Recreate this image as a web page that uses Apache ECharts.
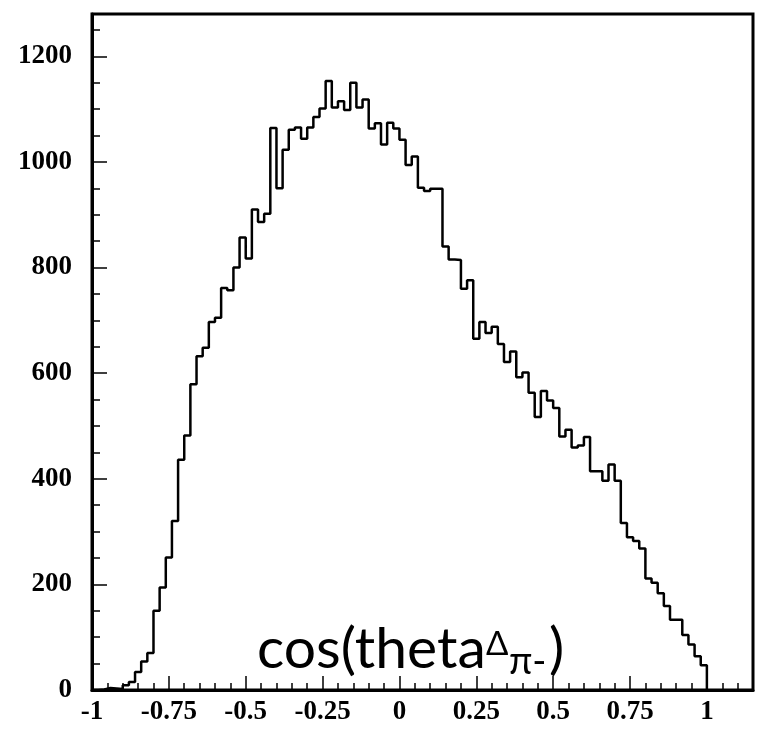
<!DOCTYPE html>
<html>
<head>
<meta charset="utf-8">
<script src="https://cdn.jsdelivr.net/npm/echarts@6/dist/echarts.min.js"></script>
<style>
html,body{margin:0;padding:0;background:#fff;}
#chart{width:762px;height:730px;}
</style>
</head>
<body>
<div id="chart"></div>
<script>
// Histogram of cos(theta) : 100 bins from -1 to 1
var binStart = -1;
var binWidth = 0.02;
var counts = [
  0, 1, 4, 3, 2, 9, 15, 34, 54, 70,
  150, 194, 251, 320, 436, 482, 579, 632, 648, 697,
  705, 761, 757, 800, 857, 817, 910, 886, 902, 1064,
  950, 1023, 1061, 1065, 1044, 1065, 1085, 1101, 1153, 1103,
  1115, 1098, 1150, 1103, 1118, 1063, 1073, 1033, 1074, 1063,
  1042, 994, 1010, 951, 945, 949, 949, 840, 815, 814,
  760, 776, 665, 697, 676, 688, 655, 621, 641, 592,
  601, 563, 517, 566, 548, 534, 480, 493, 459, 463,
  479, 414, 414, 396, 427, 396, 316, 289, 282, 268,
  211, 203, 183, 159, 133, 133, 104, 86, 64, 47
];
var xTickLabels = [-1, -0.75, -0.5, -0.25, 0, 0.25, 0.5, 0.75, 1];
var yTickLabels = [0, 200, 400, 600, 800, 1000, 1200];

var stepData = counts.map(function (c, i) { return [binStart + i * binWidth, c]; });
stepData.push([binStart + counts.length * binWidth, 0]);

function near(list, v) {
  for (var i = 0; i < list.length; i++) if (Math.abs(list[i] - v) < 1e-6) return list[i];
  return null;
}

var labelFont = { fontFamily: 'Liberation Serif', fontWeight: 'bold', fontSize: 27, color: '#000' };

var chart = echarts.init(document.getElementById('chart'), null, { renderer: 'canvas' });
chart.setOption({
  animation: false,
  backgroundColor: '#fff',
  grid: { left: 92, right: 9, top: 14, bottom: 40, show: true, borderColor: '#000', borderWidth: 3, backgroundColor: 'transparent' },
  xAxis: [
    {
      type: 'value', min: -1, max: 1.15, interval: 0.25,
      axisLine: { show: true, onZero: false, lineStyle: { color: '#000', width: 3 } },
      axisTick: { show: true, inside: true, length: 14, lineStyle: { color: '#000', width: 1.5 } },
      splitLine: { show: false },
      axisLabel: Object.assign({
        margin: 9,
        formatter: function (v) { var t = near(xTickLabels, v); return t === null ? '' : String(t); }
      }, labelFont)
    },
    {
      type: 'value', min: -1, max: 1.15, interval: 0.05, position: 'bottom',
      axisLine: { show: false, onZero: false },
      axisTick: { show: true, inside: true, length: 7, lineStyle: { color: '#000', width: 1.5 } },
      splitLine: { show: false },
      axisLabel: { show: false }
    }
  ],
  yAxis: [
    {
      type: 'value', min: 0, max: 1280, interval: 200,
      axisLine: { show: true, onZero: false, lineStyle: { color: '#000', width: 3 } },
      axisTick: { show: true, inside: true, length: 15, lineStyle: { color: '#000', width: 1.5 } },
      splitLine: { show: false },
      axisLabel: Object.assign({
        margin: 20,
        formatter: function (v) { var t = near(yTickLabels, v); return t === null ? '' : String(t); }
      }, labelFont)
    },
    {
      type: 'value', min: 0, max: 1280, interval: 50, position: 'left',
      axisLine: { show: false, onZero: false },
      axisTick: { show: true, inside: true, length: 8, lineStyle: { color: '#000', width: 1.5 } },
      splitLine: { show: false },
      axisLabel: { show: false }
    }
  ],
  series: [{
    type: 'line',
    step: 'end',
    xAxisIndex: 0,
    yAxisIndex: 0,
    data: stepData,
    symbol: 'none',
    lineStyle: { color: '#000', width: 2.5 }
  }],
  graphic: [
    { type: 'text', left: 257, top: 621, style: { text: 'cos(theta', fontFamily: 'Lato', fontSize: 57, fill: '#000' } },
    { type: 'text', left: 486, top: 628, style: { text: 'Δ', fontFamily: 'Lato', fontSize: 33, fill: '#000' } },
    { type: 'text', left: 509, top: 643, style: { text: 'π-', fontFamily: 'Lato', fontSize: 38, fill: '#000' } },
    { type: 'text', left: 549, top: 621, style: { text: ')', fontFamily: 'Lato', fontSize: 57, fill: '#000' } }
  ]
});
</script>
</body>
</html>
